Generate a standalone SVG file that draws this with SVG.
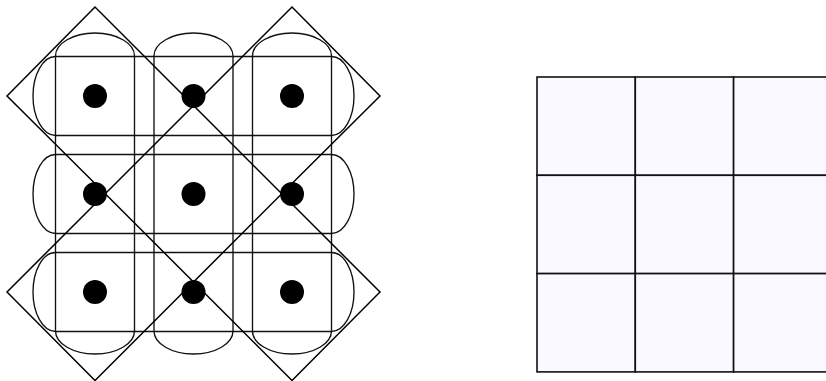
<svg xmlns="http://www.w3.org/2000/svg" width="826" height="381" viewBox="0 0 826 381">
  <style>
    .stad { fill: none; stroke: #111; stroke-width: 1.35; }
    .dia { fill: none; stroke: #000; stroke-width: 1.5; stroke-linejoin: miter; }
    .dot { fill: #000; }
    .cell { fill: #f9f9ff; stroke: #111; stroke-width: 1.6; }
  </style>
  <rect width="826" height="381" fill="#fff"/>
  <g id="rows">
    <rect class="stad" x="33" y="56.5" width="321" height="79" rx="22.5" ry="39.5"/>
    <rect class="stad" x="33" y="154.5" width="321" height="79" rx="22.5" ry="39.5"/>
    <rect class="stad" x="33" y="252.5" width="321" height="79" rx="22.5" ry="39.5"/>
  </g>
  <g id="columns">
    <rect class="stad" x="55.5" y="33" width="79" height="321" rx="39.5" ry="23"/>
    <rect class="stad" x="154" y="33" width="79" height="321" rx="39.5" ry="23"/>
    <rect class="stad" x="252.5" y="33" width="79" height="321" rx="39.5" ry="23"/>
  </g>
  <g id="diamonds">
    <polygon id="diamond-tl" class="dia" points="95,7 7,96 105.25,193.75 193.5,105.5"/>
    <polygon id="diamond-tr" class="dia" points="292,7 380,96 281.75,193.75 193.5,105.5"/>
    <polygon id="diamond-bl" class="dia" points="7,292 95,380.5 193.5,282 105.25,193.75"/>
    <polygon id="diamond-br" class="dia" points="380,292 292,380.5 193.5,282 281.75,193.75"/>
  </g>
  <g id="dots">
    <circle class="dot" cx="95" cy="96" r="12"/>
    <circle class="dot" cx="193.5" cy="96" r="12"/>
    <circle class="dot" cx="292" cy="96" r="12"/>
    <circle class="dot" cx="95" cy="194" r="12"/>
    <circle class="dot" cx="193.5" cy="194" r="12"/>
    <circle class="dot" cx="292" cy="194" r="12"/>
    <circle class="dot" cx="95" cy="292" r="12"/>
    <circle class="dot" cx="193.5" cy="292" r="12"/>
    <circle class="dot" cx="292" cy="292" r="12"/>
  </g>
  <g id="grid">
    <rect class="cell" x="537" y="77" width="98.3" height="98.3"/>
    <rect class="cell" x="635.3" y="77" width="98.3" height="98.3"/>
    <rect class="cell" x="733.6" y="77" width="98.3" height="98.3"/>
    <rect class="cell" x="537" y="175.3" width="98.3" height="98.3"/>
    <rect class="cell" x="635.3" y="175.3" width="98.3" height="98.3"/>
    <rect class="cell" x="733.6" y="175.3" width="98.3" height="98.3"/>
    <rect class="cell" x="537" y="273.6" width="98.3" height="98.3"/>
    <rect class="cell" x="635.3" y="273.6" width="98.3" height="98.3"/>
    <rect class="cell" x="733.6" y="273.6" width="98.3" height="98.3"/>
  </g>
  <g id="connectors"/>
</svg>
